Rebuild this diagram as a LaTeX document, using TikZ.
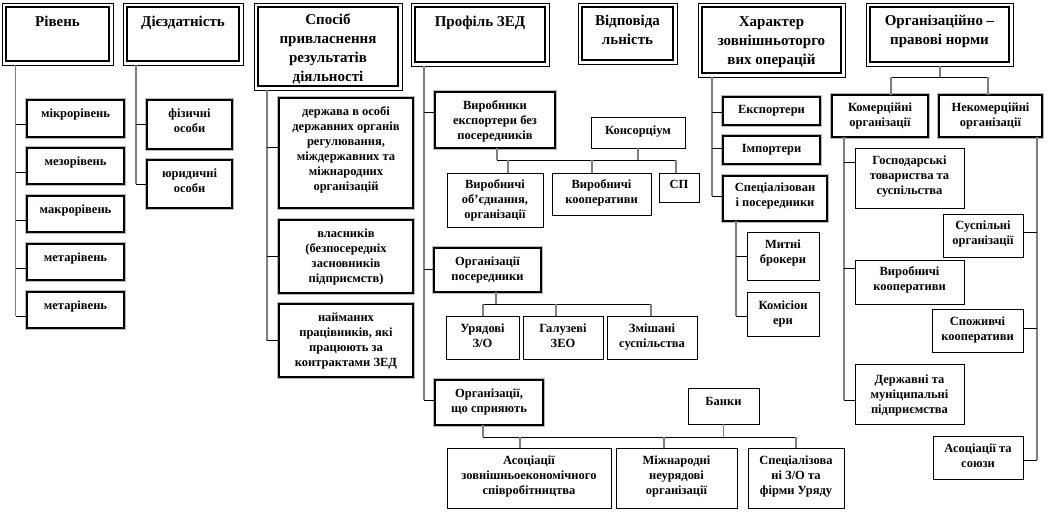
\documentclass[tikz,border=0pt]{standalone}
\usepackage{fontspec}
\setmainfont{Liberation Serif}
\usetikzlibrary{calc}
\newcommand\mkbox[8]{%
  \node[#2] (#1) at ({(#3+#5)/2},{(#4+#6)/2})
  {\parbox[c][\dimexpr#6pt-#4pt\relax][t]{\dimexpr#5pt-#3pt\relax}{\centering\vspace*{#7pt}\strut#8\par}};}
\tikzset{
  hdr/.style={draw, line width=0.8pt, fill=white, inner sep=0pt, outer sep=0pt,
    font=\fontsize{15}{19}\selectfont\bfseries},
  innerframe/.style={draw, line width=1.8pt},
  abox/.style={draw, line width=1.8pt, fill=white, preaction={draw=gray!55, line width=3.6pt},
    inner sep=0pt, outer sep=0pt, font=\fontsize{12.5}{15}\selectfont\bfseries},
  bbox/.style={draw, line width=0.9pt, fill=white, inner sep=0pt, outer sep=0pt,
    font=\fontsize{12.5}{15}\selectfont\bfseries},
  trunk/.style={draw=gray, line width=1.8pt},
  branch/.style={draw=black, line width=0.8pt},
}
\begin{document}
\begin{tikzpicture}[x=1pt,y=-1pt]
\useasboundingbox[fill=white] (0,0) rectangle (1048,520);
% headers
\mkbox{h1}{hdr}{2}{3}{113}{65}{10.5}{Рівень}
\mkbox{h2}{hdr}{123}{3}{243}{65}{10.5}{Дієздатність}
\mkbox{h3}{hdr}{254}{3}{402}{90}{8.5}{Спосіб\\привласнення\\результатів\\діяльності}
\mkbox{h4}{hdr}{411}{3}{549}{66}{10.5}{Профіль ЗЕД}
\mkbox{h5}{hdr}{578}{3}{677}{64}{9.5}{Відповіда\\льність}
\mkbox{h6}{hdr}{698}{3}{845}{77}{10}{Характер\\зовнішньоторго\\вих операцій}
\mkbox{h7}{hdr}{866}{3}{1013}{66}{9.5}{Організаційно –\\правові норми}
\foreach \n in {h1,h2,h3,h4,h5,h6,h7}
  \draw[innerframe] ([shift={(4,4)}]\n.north west) rectangle ([shift={(-4,-4)}]\n.south east);
% Рівень
\mkbox{r1}{abox}{27}{100}{124}{137}{6.5}{мікрорівень}
\mkbox{r2}{abox}{27}{148}{124}{184}{6.5}{мезорівень}
\mkbox{r3}{abox}{27}{196}{124}{232}{6.5}{макрорівень}
\mkbox{r4}{abox}{27}{244}{124}{280}{6.5}{метарівень}
\mkbox{r5}{abox}{27}{292}{124}{328}{6.5}{метарівень}
% Дієздатність
\mkbox{d1}{abox}{147}{100}{232}{149}{6.5}{фізичні\\особи}
\mkbox{d2}{abox}{147}{160}{232}{208}{6.5}{юридичні\\особи}
% Спосіб
\mkbox{s1}{abox}{279}{98}{413}{208}{6.5}{держава в особі\\державних органів\\регулювання,\\міждержавних та\\міжнародних\\організацій}
\mkbox{s2}{abox}{279}{220}{413}{293}{6.5}{власників\\(безпосередніх\\засновників\\підприємств)}
\mkbox{s3}{abox}{279}{304}{413}{377}{6.5}{найманих\\працівників, які\\працюють за\\контрактами ЗЕД}
% Профіль ЗЕД
\mkbox{p1}{abox}{435}{92}{555}{148}{6.5}{Виробники\\експортери без\\посередників}
\mkbox{p2}{bbox}{591}{117}{685}{148}{6.5}{Консорціум}
\mkbox{p3}{bbox}{447}{173}{543}{227}{4.5}{Виробничі\\об'єднання,\\організації}
\mkbox{p4}{bbox}{552}{173}{651}{215}{4.5}{Виробничі\\кооперативи}
\mkbox{p5}{bbox}{659}{173}{699}{202}{4.5}{СП}
\mkbox{p6}{abox}{434}{248}{541}{292}{6.5}{Організації\\посередники}
\mkbox{p7}{bbox}{446}{316}{519}{359}{6}{Урядові\\З/О}
\mkbox{p8}{bbox}{523}{316}{603}{359}{6}{Галузеві\\ЗЕО}
\mkbox{p9}{bbox}{607}{316}{697}{359}{6}{Змішані\\суспільства}
\mkbox{p10}{abox}{435}{380}{543}{425}{6.5}{Організації,\\що сприяють}
\mkbox{p11}{bbox}{688}{388}{759}{424}{6.5}{Банки}
\mkbox{p12}{bbox}{447}{448}{611}{508}{6}{Асоціації\\зовнішньоекономічного\\співробітництва}
\mkbox{p13}{bbox}{616}{448}{737}{508}{6}{Міжнародні\\неурядові\\організації}
\mkbox{p14}{bbox}{748}{448}{844}{508}{6}{Спеціалізова\\ні З/О та\\фірми Уряду}
% Характер
\mkbox{x1}{abox}{723}{97}{820}{125}{6}{Експортери}
\mkbox{x2}{abox}{723}{136}{820}{164}{6}{Імпортери}
\mkbox{x3}{abox}{723}{176}{827}{221}{5}{Спеціалізован\\і посередники}
\mkbox{x4}{bbox}{747}{232}{819}{280}{6}{Митні\\брокери}
\mkbox{x5}{bbox}{747}{292}{819}{336}{6.5}{Комісіон\\ери}
% Організаційно-правові норми
\mkbox{o1}{abox}{832}{95}{928}{137}{6}{Комерційні\\організації}
\mkbox{o2}{abox}{939}{95}{1042}{137}{6}{Некомерційні\\організації}
\mkbox{o3}{bbox}{855}{148}{964}{208}{6}{Господарські\\товариства та\\суспільства}
\mkbox{o4}{bbox}{943}{214}{1023}{257}{5}{Суспільні\\організації}
\mkbox{o5}{bbox}{855}{260}{964}{304}{5}{Виробничі\\кооперативи}
\mkbox{o6}{bbox}{932}{309}{1023}{352}{6}{Споживчі\\кооперативи}
\mkbox{o7}{bbox}{855}{364}{964}{424}{9}{Державні та\\муніципальні\\підприємства}
\mkbox{o8}{bbox}{933}{436}{1023}{479}{6}{Асоціації та\\союзи}

% ---- connectors ----
% Рівень
\coordinate (t1) at ([shift={(13.5,0)}]h1.south west);
\foreach \c in {r1,r2,r3,r4,r5} \coordinate (b\c) at ([shift={(0,6)}]\c.west);
\draw[trunk] (t1) -- (t1 |- br5);
\foreach \c in {r1,r2,r3,r4,r5} \draw[branch] (b\c) -- (b\c -| t1);
% Дієздатність
\coordinate (t2) at ([shift={(13,0)}]h2.south west);
\draw[trunk] (t2) -- (t2 |- d2.west);
\foreach \c in {d1,d2} \draw[branch] (\c.west) -- (\c.west -| t2);
% Спосіб
\coordinate (t3) at ([shift={(13,0)}]h3.south west);
\coordinate (bs1) at ([shift={(0,-6)}]s1.west);
\draw[trunk] (t3) -- (t3 |- s3.west);
\draw[branch] (bs1) -- (bs1 -| t3);
\foreach \c in {s2,s3} \draw[branch] (\c.west) -- (\c.west -| t3);
% Профіль ЗЕД
\coordinate (t4) at ([shift={(13,0)}]h4.south west);
\coordinate (bp1) at ([shift={(0,-8)}]p1.west);
\coordinate (bp6) at ([shift={(0,-1)}]p6.west);
\coordinate (bp10) at ([shift={(0,-2.5)}]p10.west);
\draw[trunk] (t4) -- (t4 |- bp10);
\foreach \c in {p1,p6,p10} \draw[branch] (b\c) -- (b\c -| t4);
% group 1
\coordinate (bA) at ([shift={(2,12)}]p1.south);
\coordinate (dp3) at ([shift={(13,0)}]p3.north);
\coordinate (dp4) at ([shift={(-9.5,0)}]p4.north);
\coordinate (dp5) at ([shift={(-3,0)}]p5.north);
\draw[trunk] (p1.south -| bA) -- (bA);
\draw[trunk] (p2.south) -- (p2.south |- bA);
\draw[branch] (bA) -- (bA -| dp5);
\foreach \c in {dp3,dp4,dp5} \draw[trunk] (\c) -- (\c |- bA);
% group 2
\coordinate (bB) at ([shift={(8.5,12)}]p6.south);
\coordinate (dp7) at ([shift={(0.5,0)}]p7.north);
\coordinate (dp8) at ([shift={(-7,0)}]p8.north);
\coordinate (dp9) at ([shift={(-1,0)}]p9.north);
\draw[trunk] (p6.south -| bB) -- (bB);
\draw[branch] (dp7 |- bB) -- (dp9 |- bB);
\foreach \c in {dp7,dp8,dp9} \draw[trunk] (\c) -- (\c |- bB);
% group 3
\coordinate (bC) at ([shift={(-6,12)}]p10.south);
\coordinate (dp12) at ([shift={(-9,0)}]p12.north);
\coordinate (dp13) at ([shift={(-12.5,0)}]p13.north);
\coordinate (dp14) at (p14.north);
\draw[trunk] (p10.south -| bC) -- (bC);
\draw[trunk] (p11.south) -- (p11.south |- bC);
\draw[branch] (bC) -- (bC -| dp14);
\foreach \c in {dp12,dp13,dp14} \draw[trunk] (\c) -- (\c |- bC);
% Характер
\coordinate (t6) at ([shift={(14,0)}]h6.south west);
\coordinate (bx1) at ([shift={(0,1)}]x1.west);
\coordinate (bx2) at ([shift={(0,-2)}]x2.west);
\coordinate (bx3) at ([shift={(0,-2.5)}]x3.west);
\draw[trunk] (t6) -- (t6 |- bx3);
\foreach \c in {x1,x2,x3} \draw[branch] (b\c) -- (b\c -| t6);
\coordinate (t7) at ([shift={(13,0)}]x3.south west);
\coordinate (bx5) at ([shift={(0,2)}]x5.west);
\draw[trunk] (t7) -- (t7 |- bx5);
\draw[branch] (x4.west) -- (x4.west -| t7);
\draw[branch] (bx5) -- (bx5 -| t7);
% Організаційно-правові норми
\coordinate (bD) at ([shift={(0.5,11)}]h7.south);
\coordinate (do1) at ([shift={(11,0)}]o1.north);
\coordinate (do2) at ([shift={(-2.5,0)}]o2.north);
\draw[trunk] (h7.south -| bD) -- (bD);
\draw[branch] (do1 |- bD) -- (do2 |- bD);
\foreach \c in {do1,do2} \draw[trunk] (\c) -- (\c |- bD);
\coordinate (t8) at ([shift={(12,0)}]o1.south west);
\coordinate (bo3) at ([shift={(0,-16)}]o3.west);
\coordinate (bo5) at ([shift={(0,-14)}]o5.west);
\coordinate (bo7) at ([shift={(0,6)}]o7.west);
\draw[trunk] (t8) -- (t8 |- bo7);
\foreach \c in {o3,o5,o7} \draw[branch] (b\c) -- (b\c -| t8);
\coordinate (t9) at ([shift={(-5,0)}]o2.south east);
\coordinate (bo4) at ([shift={(0,-3.5)}]o4.east);
\coordinate (bo6) at ([shift={(0,-2.5)}]o6.east);
\coordinate (bo8) at ([shift={(0,2.5)}]o8.east);
\draw[trunk] (t9) -- (t9 |- bo8);
\foreach \c in {o4,o6,o8} \draw[branch] (b\c) -- (b\c -| t9);
\end{tikzpicture}
\end{document}
